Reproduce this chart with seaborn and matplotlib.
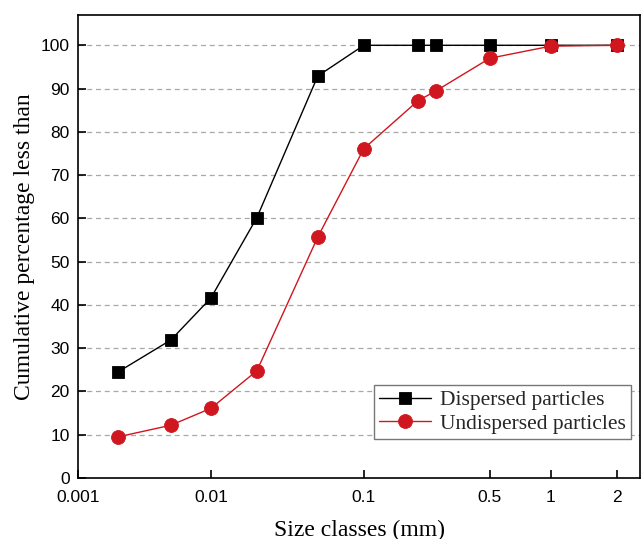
import numpy as np
import pandas as pd
import matplotlib
matplotlib.use("Agg")
import matplotlib.pyplot as plt
import seaborn as sns

sizes = [0.002, 0.005, 0.01, 0.02, 0.05, 0.1, 0.2, 0.25, 0.5, 1, 2]
dispersed = [24.5, 31.9, 41.6, 60.2, 92.9, 100, 100, 100, 100, 100, 100]
undispersed = [9.5, 12.2, 16.1, 24.8, 55.7, 76.1, 87.2, 89.4, 97.0, 99.8, 100]
tick_values = [0.001, 0.01, 0.1, 0.5, 1, 2]
tick_labels = ["0.001", "0.01", "0.1", "0.5", "1", "2"]
series_names = ["Dispersed particles", "Undispersed particles"]

df = pd.DataFrame({
    "size": sizes * 2,
    "pct": dispersed + undispersed,
    "series": [series_names[0]] * len(sizes) + [series_names[1]] * len(sizes),
})

sns.set_theme(style="white")
plt.rcParams["font.family"] = ["Liberation Serif", "DejaVu Serif"]

fig = plt.figure(figsize=(6.44, 5.39), dpi=100)
ax = fig.add_axes([78 / 644, 1 - 478 / 539, (640 - 78) / 644, (478 - 15) / 539])

# piecewise-log axis as in the original figure
knot_log = np.log10([0.001, 0.01, 0.1, 0.5, 1, 2, 3])
knot_pos = np.array([0.0, 133.0, 286.0, 412.0, 473.0, 539.0, 578.0])

def fwd(x):
    x = np.asarray(x, dtype=float)
    lx = np.log10(np.clip(x, 1e-12, None))
    return np.interp(lx, knot_log, knot_pos)

def inv(p):
    p = np.asarray(p, dtype=float)
    return 10 ** np.interp(p, knot_pos, knot_log)

ax.set_xscale("function", functions=(fwd, inv))

for yv in range(10, 101, 10):
    ax.axhline(yv, color="#a8a8a8", lw=0.9, ls=(0, (4, 3)), zorder=0)

red = "#d0161e"
sns.lineplot(
    data=df, x="size", y="pct", hue="series", style="series",
    palette={series_names[0]: "black", series_names[1]: red},
    markers={series_names[0]: "s", series_names[1]: "o"},
    dashes=False, sort=False, estimator=None, lw=1.0, ax=ax,
    markersize=9, markeredgewidth=0.6,
)
for line in ax.lines:
    if line.get_marker() == "s":
        line.set_markersize(8)
        line.set_markeredgecolor("black")
    elif line.get_marker() == "o":
        line.set_markersize(10)
        line.set_markeredgecolor(red)

ax.set_xlim(0.001, 2.55)
ax.set_ylim(0, 107)
ax.set_xticks(tick_values)
ax.set_xticklabels(tick_labels)
ax.set_yticks(range(0, 101, 10))
ax.xaxis.set_minor_locator(matplotlib.ticker.NullLocator())
ax.tick_params(direction="in", length=6, width=1.2, color="black",
               labelsize=12.5, bottom=True, left=True)
ax.tick_params(axis="x", pad=9)
ax.tick_params(axis="y", pad=6)
for lab in ax.get_xticklabels() + ax.get_yticklabels():
    lab.set_family(["Liberation Sans", "DejaVu Sans"])
    lab.set_color("black")

for s in ax.spines.values():
    s.set_color("black")
    s.set_linewidth(1.2)

ax.set_xlabel("Size classes (mm)", fontsize=17, color="black", labelpad=10)
ax.set_ylabel("Cumulative percentage less than", fontsize=17, color="black", labelpad=4)

leg = ax.legend(loc="lower right", bbox_to_anchor=(0.984, 0.084), fontsize=15.5,
                frameon=True, fancybox=False, edgecolor="#777777", framealpha=1,
                handlelength=2.4, borderpad=0.25, labelspacing=0.15, handletextpad=0.4,
                borderaxespad=0)
leg.get_frame().set_linewidth(1.0)
for h in leg.legend_handles:
    if hasattr(h, "set_markersize"):
        h.set_markersize(8 if h.get_marker() == "s" else 10)

fig.savefig("out.png", dpi=100)
